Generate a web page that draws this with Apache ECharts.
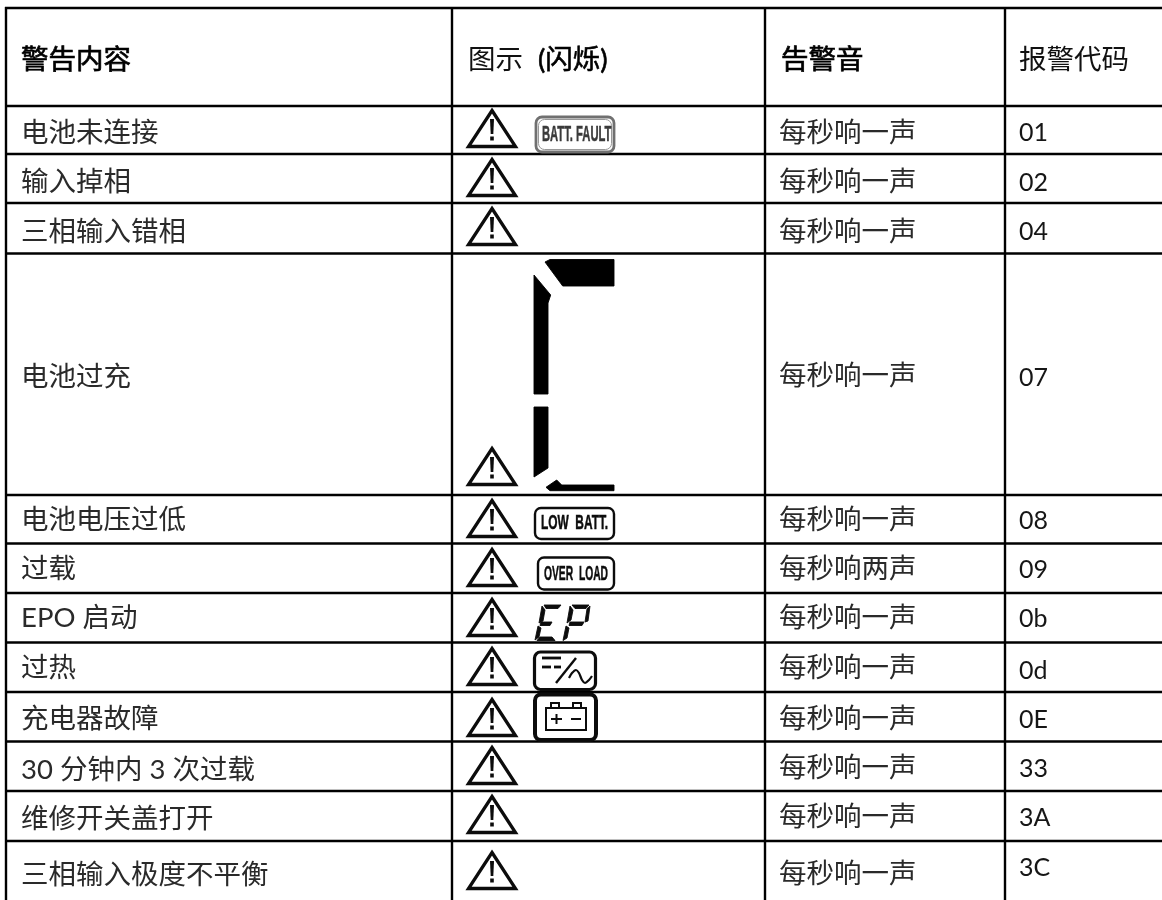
<!DOCTYPE html>
<html><head><meta charset="utf-8">
<style>html,body{margin:0;padding:0;background:#fff}#c{width:1162px;height:900px}</style>
<script src="https://cdn.jsdelivr.net/npm/echarts@6/dist/echarts.min.js"></script>
</head><body><div id="c"></div>
<script>
const headers = ['警告内容','图示','(闪烁)','告警音','报警代码'];
const alarms = ['电池未连接','输入掉相','三相输入错相','电池过充','电池电压过低','过载','EPO 启动','过热','充电器故障','30 分钟内 3 次过载','维修开关盖打开','三相输入极度不平衡'];
const sounds = ['每秒响一声','每秒响一声','每秒响一声','每秒响一声','每秒响一声','每秒响两声','每秒响一声','每秒响一声','每秒响一声','每秒响一声','每秒响一声','每秒响一声'];
const codes = ['01','02','04','07','08','09','0b','0d','0E','33','3A','3C'];
const icons = ['fault','','','bars','low','over','ep','inv','bat','','',''];

const rowLines=[8,106,154,203,253.5,495,543.5,593,642.5,692,741.5,791,841];
const colLines=[6,452,765,1005];
const textY=[133,182,232,377,520,569,618,668,719,770,819,875];
const soundY=[133,182,232,376,520,569,618,668,719,768,817,874];
const codeY=[133,183,232,378,521,570,619,671,720,769,818,868];
const triY=[108,157,206,446,498,547,597,646,697,745,794,850];
const cjk='Lato,"Noto Sans CJK SC",sans-serif';
const K='#0c0c0c';

function txt(x,y,s,o){o=o||{};const st={text:s,fill:o.fill||'#2a2a2a',font:(o.weight||'normal')+' '+(o.size||27.5)+'px '+cjk,align:'left',verticalAlign:'middle'};if(o.stroke){st.stroke=o.stroke;st.lineWidth=o.lw;}return {type:'text',x,y,style:st};}
function poly(pts,fill){return {type:'polygon',shape:{points:pts},style:{fill:fill||K,stroke:fill||K,lineWidth:.9,lineJoin:'round'}};}
function tri(x,y){return {type:'group',x,y,children:[
 {type:'polygon',shape:{points:[[25,2.5],[48.5,38.5],[1.5,38.5]]},style:{fill:'#fff',stroke:K,lineWidth:3.3}},
 {type:'polygon',shape:{points:[[23,11],[27,11],[26.3,26],[23.7,26]]},style:{fill:K}},
 {type:'rect',shape:{x:23.2,y:28.5,width:3.6,height:4},style:{fill:K}}]};}
function box(x,y,w,h,lw,stroke){return {type:'rect',shape:{x,y,width:w,height:h,r:6},style:{fill:'#fff',stroke:stroke||K,lineWidth:lw}};}
function narrow(x,y,s,size,sx,fill){return {type:'text',x,y,scaleX:sx,style:{text:s,fill:fill||K,stroke:fill||K,lineWidth:.5,font:'bold '+size+'px "Liberation Sans Narrow","Liberation Sans",sans-serif',align:'left',verticalAlign:'middle'}};}
function line(a,b,c,d,lw,col){return {type:'line',shape:{x1:a,y1:b,x2:c,y2:d},style:{stroke:col||K,lineWidth:lw,lineCap:'butt'}};}

const drawIcon={
 fault:()=>[box(536,117,78,35,2.8,'#707070'),box(538.5,119.5,73,30,1,'#999'),narrow(542,134.5,'BATT. FAULT',22,.51,'#3a3a3a')],
 low:()=>[box(535,508,79,31,2.4),narrow(541,524,'LOW  BATT.',19.5,.61)],
 over:()=>[box(538,557.5,76,32,2.4),narrow(544,574,'OVER  LOAD',21,.49)],
 ep:()=>[
  poly([[544,605],[561,605],[558,608.5],[546,608.5]]),poly([[542,606],[545,610],[543,621],[539,623]]),
  poly([[541,622],[552,622],[550,625.5],[540,625.5]]),poly([[538,626],[541,628],[539,637],[535,640]]),
  poly([[540,637],[552,637],[555,640.5],[537,640.5]]),
  poly([[572,605],[589,605],[586,608.5],[575,608.5]]),poly([[570,606],[573,610],[571,620],[567,623]]),
  poly([[590,606],[588,621],[585,622],[587,609]]),poly([[570,622],[584,622],[582,625.5],[569,625.5]]),
  poly([[566,626],[569,628],[567,638],[563,640.5]])],
 inv:()=>[box(534.5,652,61,37.5,3.2),
  line(542,658,561,658,2.8),line(542,667,551,667,2.8),line(554,667,561,667,2.8),
  line(556,683,576,658,2.4),
  {type:'polyline',shape:{points:[[569,678],[572,673],[576,670],[579,673],[582,680],[585,683],[589,680],[592,676]],smooth:.3},style:{stroke:K,lineWidth:2.2,fill:null}}],
 bat:()=>[box(535,694.5,61,45.5,4),
  {type:'rect',shape:{x:546,y:708,width:40,height:22},style:{fill:'#fff',stroke:K,lineWidth:2}},
  {type:'rect',shape:{x:551,y:703,width:8,height:5},style:{fill:'#fff',stroke:K,lineWidth:2}},
  {type:'rect',shape:{x:573,y:703,width:8,height:5},style:{fill:'#fff',stroke:K,lineWidth:2}},
  line(551,719,562,719,2),line(556.5,714,556.5,724,2),line(571,719,581,719,2)],
 bars:()=>[
  poly([[545,262],[550,259.5],[614,259.5],[614,286],[562.7,286]],'#000'),
  poly([[534,275],[550.7,295],[548,303],[548,394],[534,394]],'#000'),
  poly([[534,407],[548,407],[548,468],[534,477]],'#000'),
  poly([[546,487.3],[556.7,480],[561.7,485],[614,485],[614,490.7],[550,490.7]],'#000')]
};

const chart=echarts.init(document.getElementById('c'),null,{renderer:'canvas'});
chart.setOption({
 animation:false,
 grid:{left:0,right:0,top:0,bottom:0},
 xAxis:{type:'value',min:0,max:1162,show:false},
 yAxis:{type:'value',min:0,max:900,inverse:true,show:false},
 series:[{
  type:'custom',coordinateSystem:'cartesian2d',silent:true,clip:false,
  data:alarms.map((a,i)=>[i]),
  renderItem:(p,api)=>{
   const i=api.value(0),ch=[];
   const X=v=>api.coord([v,0])[0],Y=v=>api.coord([0,v])[1];
   if(i===0){
    rowLines.forEach(y=>ch.push(line(5,Y(y),1162,Y(y),2.5,'#000')));
    colLines.forEach(x=>ch.push(line(X(x),7,X(x),900,2.4,'#000')));
    const bold={fill:'#000',stroke:'#000',lw:.7};
    ch.push(txt(21,60,headers[0],bold));
    ch.push(txt(468,60,headers[1],{fill:'#111'}));
    ch.push(txt(538,60,headers[2],{fill:'#000',stroke:'#000',lw:.6}));
    ch.push(txt(781,60,headers[3],bold));
    ch.push(txt(1019,60,headers[4],{fill:'#111'}));
   }
   ch.push(txt(21,textY[i],alarms[i]));
   ch.push(txt(779,soundY[i],sounds[i]));
   ch.push(txt(1019,codeY[i],codes[i],{size:25,fill:'#161616'}));
   ch.push(tri(467,triY[i]));
   if(icons[i]) drawIcon[icons[i]]().forEach(e=>ch.push(e));
   return {type:'group',children:ch};
  }
 }]
});
</script></body></html>
